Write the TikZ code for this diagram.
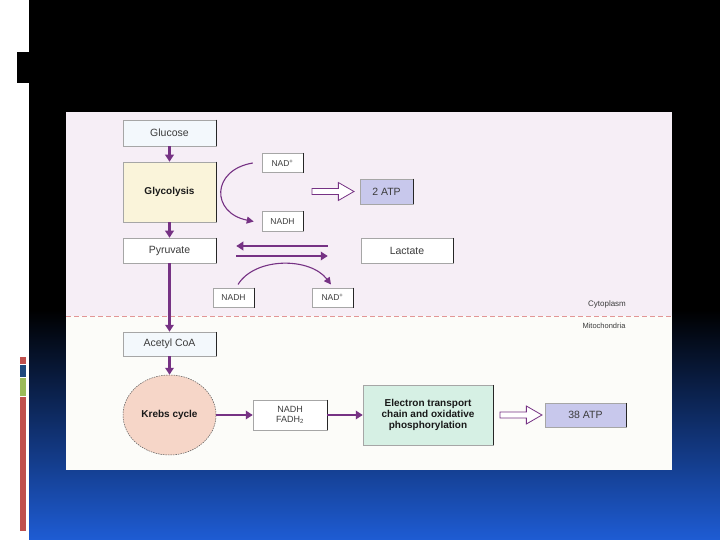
\documentclass[tikz,border=0pt]{standalone}
\usepackage{fontspec}
\setmainfont{Liberation Sans}
\usetikzlibrary{shapes.geometric,shapes.arrows,arrows.meta,calc}
\definecolor{arrowpurple}{RGB}{118,50,132}
\definecolor{slideblue}{RGB}{30,92,212}
\definecolor{barred}{RGB}{192,80,77}
\definecolor{barblue}{RGB}{31,73,125}
\definecolor{bargreen}{RGB}{155,187,89}
\definecolor{uppbg}{RGB}{246,238,246}
\definecolor{lowbg}{RGB}{252,252,249}
\definecolor{glucfill}{RGB}{243,248,252}
\definecolor{glycfill}{RGB}{250,244,218}
\definecolor{atpfill}{RGB}{200,200,236}
\definecolor{krebsfill}{RGB}{246,214,200}
\definecolor{etcfill}{RGB}{214,240,228}
\definecolor{dashcol}{RGB}{226,150,150}
\definecolor{txtgray}{RGB}{60,60,60}
\tikzset{
  box/.style={draw=black!35, line width=0.5pt, inner sep=0pt, align=center,
    text=txtgray, font=\fontsize{10.5}{11}\selectfont,
    append after command={(\tikzlastnode.north east) edge[draw=black!85, line width=0.9pt] (\tikzlastnode.south east)}},
  smallbox/.style={box, fill=white, minimum width=41pt, minimum height=19.5pt,
    font=\fontsize{8.5}{9}\selectfont},
  boldtxt/.style={text=black!90, font=\fontsize{10}{11}\selectfont\bfseries},
  flow/.style={draw=arrowpurple, line width=2.4pt, -{Triangle[length=7pt,width=8.5pt]}},
  curvearrow/.style={draw=arrowpurple, line width=1.1pt, -{Triangle[length=7pt,width=7pt]}},
  hollow/.style={single arrow, draw=arrowpurple, fill=white, line width=0.8pt,
    inner sep=2.6pt, single arrow head extend=6pt, single arrow tip angle=60,
    minimum height=42pt, anchor=tip},
  label/.style={text=txtgray, inner sep=0pt}
}
\begin{document}
\begin{tikzpicture}[x=1pt,y=-1pt]
\useasboundingbox (0,0) rectangle (720,540);
% slide background
\fill[white] (0,0) rectangle (720,540);
\fill[black] (29,0) rectangle (720,540);
\shade[top color=black, bottom color=slideblue] (29,310) rectangle (720,540);
\fill[black] (17,52) rectangle (29,83);
\fill[barred] (20,357) rectangle (26,364);
\fill[barblue] (20,365) rectangle (26,377);
\fill[bargreen] (20,377.5) rectangle (26,396);
\fill[barred] (20,397) rectangle (26,531);
% figure background
\fill[uppbg] (66,112) rectangle (672,316);
\fill[lowbg] (66,316) rectangle (672,470);
\draw[dashcol, line width=0.7pt, dash pattern=on 5pt off 3pt] (66,316) -- (672,316);

% nodes
\node[box, fill=glucfill, minimum width=93pt, minimum height=26pt] (glucose) at (169.5,133) {Glucose};
\node[box, boldtxt, fill=glycfill, minimum width=93pt, minimum height=60pt] (glyc) at (169.5,192) {Glycolysis};
\node[box, fill=white, minimum width=93pt, minimum height=25pt] (pyr) at (169.5,250.5) {Pyruvate};
\node[box, fill=glucfill, minimum width=93pt, minimum height=24pt] (acetyl) at (169.5,344) {Acetyl CoA};
\node[ellipse, draw=black!65, line width=0.5pt, dash pattern=on 1.5pt off 1pt, fill=krebsfill,
  minimum width=93pt, minimum height=80pt, inner sep=0pt, boldtxt] (krebs) at (169.5,415) {Krebs cycle};
\node[box, fill=white, minimum width=74pt, minimum height=30pt,
  font=\fontsize{9}{9.5}\selectfont] (nf) at (290,415) {NADH\\FADH\textsubscript{2}};
\node[box, boldtxt, fill=etcfill, minimum width=130pt, minimum height=60pt] (etc) at (428,415)
  {Electron transport\\chain and oxidative\\phosphorylation};
\node[box, fill=atpfill, minimum width=81pt, minimum height=24pt] (atp38) at (585.5,415) {38 ATP};
\node[smallbox] (nadp1) at (282.5,163) {NAD\textsuperscript{+}};
\node[smallbox] (nadh1) at (282.5,221.5) {NADH};
\node[box, fill=atpfill, minimum width=53pt, minimum height=25pt] (atp2) at (386.5,191.5) {2 ATP};
\node[box, fill=white, minimum width=92pt, minimum height=25pt] (lac) at (407,250.5) {Lactate};
\node[smallbox] (nadh2) at (233.5,297.5) {NADH};
\node[smallbox] (nadp2) at (332.5,297.5) {NAD\textsuperscript{+}};
\node[label, font=\fontsize{8}{9}\selectfont] (cyto) at (607,304) {Cytoplasm};
\node[label, font=\fontsize{7.5}{9}\selectfont] (mito) at (604,325.5) {Mitochondria};

% main flow
\draw[flow] (glucose.south) -- (glyc.north);
\draw[flow] (glyc.south) -- (pyr.north);
\draw[flow] (pyr.south) -- (acetyl.north);
\draw[flow] (acetyl.south) -- (krebs.north);
\draw[flow] (krebs.east) -- (nf.west);
\draw[flow] (nf.east) -- (etc.west);

% pyruvate <-> lactate
\draw[flow] ($(lac.west)+(-33,-4.5)$) -- ($(pyr.east)+(20,-4.5)$);
\draw[flow] ($(pyr.east)+(20,5.5)$) -- ($(lac.west)+(-33,5.5)$);

% NAD curves
\draw[curvearrow] ($(nadp1.west)+(-9,0)$) .. controls (211,170) and (211,213) .. ($(nadh1.west)+(-8,0)$);
\draw[curvearrow] ($(nadh2.north)+(4.5,-3)$) .. controls (255,257) and (310,257) .. ($(nadp2.north)+(-1.5,-3)$);

% hollow ATP arrows
\node[hollow] (h1) at ($(atp2.west)+(-5,0)$) {};
\node[hollow] (h2) at ($(atp38.west)+(-2,0)$) {};
\end{tikzpicture}
\end{document}
